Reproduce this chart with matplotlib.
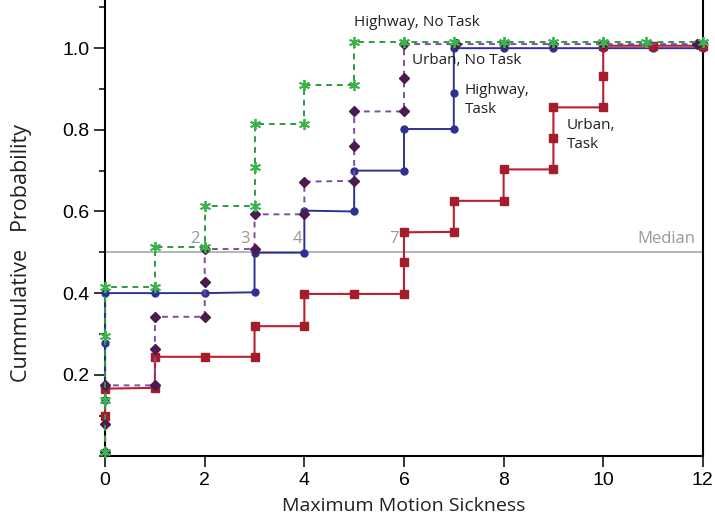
import matplotlib.pyplot as plt
from matplotlib.ticker import MultipleLocator

# step corners (x = max motion sickness, y = cumulative prob.)
hw_task_x = [0, 0, 0, 1, 2, 3, 3, 4, 4, 5, 5, 6, 6, 7, 7, 7, 8, 9, 10, 11, 12]
hw_task_y = [0.137, 0.278, 0.40, 0.40, 0.40, 0.402, 0.499, 0.499, 0.602, 0.60, 0.70,
             0.70, 0.802, 0.802, 0.89, 1.0, 1.0, 1.0, 1.0, 1.0, 1.0]

urb_task_x = [0, 0, 1, 1, 2, 3, 3, 4, 4, 5, 6, 6, 6, 7, 7, 8, 8, 9, 9, 9,
              10, 10, 10, 11, 12]
urb_task_y = [0.10, 0.166, 0.168, 0.244, 0.244, 0.244, 0.319, 0.319, 0.398, 0.398,
              0.398, 0.475, 0.549, 0.55, 0.626, 0.626, 0.703, 0.703, 0.781, 0.855,
              0.855, 0.932, 1.006, 1.006, 1.006]

urb_notask_x = [0, 0, 0, 1, 1, 1, 2, 2, 2, 3, 3, 4, 4, 5, 5, 5, 6, 6, 6,
                7.05, 8, 9, 10, 11.88]
urb_notask_y = [0.01, 0.08, 0.174, 0.174, 0.263, 0.342, 0.342, 0.427, 0.508, 0.508,
                0.593, 0.593, 0.673, 0.675, 0.76, 0.845, 0.845, 0.926, 1.01,
                1.01, 1.01, 1.01, 1.01, 1.01]

hw_notask_x = [0, 0, 0, 0, 1, 1, 2, 2, 3, 3, 3, 4, 4, 5, 5, 6, 7, 8, 9, 10, 10.85, 12]
hw_notask_y = [0.01, 0.137, 0.294, 0.414, 0.414, 0.513, 0.513, 0.613, 0.613, 0.709,
               0.814, 0.814, 0.909, 0.909, 1.014, 1.014, 1.014, 1.014, 1.014, 1.014,
               1.014, 1.014]

median_x = [1.9, 2.9, 3.95, 5.9]
median_lbl = ['2', '3', '4', '7']

fig = plt.figure(figsize=(7.15, 5.24), dpi=100)
ax = fig.add_axes([0.147, 0.129, 0.836, 0.871])

ax.axhline(0.5, color='#a8a8a8', lw=1.2, zorder=1)
ax.text(11.85, 0.512, 'Median', color='#999999', fontsize=12, family='Open Sans',
        ha='right', va='bottom')
for x, s in zip(median_x, median_lbl):
    ax.text(x, 0.512, s, color='#999999', fontsize=12, family='Open Sans',
            ha='right', va='bottom')

ax.plot(hw_task_x, hw_task_y, color='#2e3192', lw=1.4, marker='o', ms=5,
        mfc='#2e3192', mec='#2e3192', zorder=3, clip_on=False)
ax.plot(urb_task_x, urb_task_y, color='#be1e2d', lw=1.5, marker='s', ms=5.5,
        mfc='#a51d2a', mec='#a51d2a', zorder=3, clip_on=False)
ax.plot(urb_notask_x, urb_notask_y, color='#7b4ea3', lw=1.4, ls=(0, (3, 2.5)),
        marker='D', ms=5, mfc='#4b1a4f', mec='#4b1a4f', zorder=4, clip_on=False)
ax.plot(hw_notask_x, hw_notask_y, color='#2e9a44', lw=1.4, ls=(0, (3, 2.5)),
        marker=(6, 2, 0), ms=8, mew=1.3, mec='#39b54a', zorder=4, clip_on=False)

lbl = dict(fontsize=11, family='Open Sans', color='#231f20', va='center', ha='left')
ax.text(5.0, 1.064, 'Highway, No Task', **lbl)
ax.text(6.17, 0.971, 'Urban, No Task', **lbl)
ax.text(7.22, 0.873, 'Highway,\nTask', linespacing=1.35, **lbl)
ax.text(9.27, 0.787, 'Urban,\nTask', linespacing=1.35, **lbl)

ax.set_xlim(0, 12)
ax.set_ylim(0, 1.118)
ax.set_xticks(range(0, 13, 2))
ax.set_yticks([0.2, 0.4, 0.6, 0.8, 1.0])
ax.yaxis.set_minor_locator(MultipleLocator(0.1))
ax.tick_params(axis='both', direction='out', length=8, width=1.1, labelsize=14,
               pad=3)
ax.tick_params(axis='y', which='minor', direction='out', length=4, width=1.1)
for t in ax.get_xticklabels() + ax.get_yticklabels():
    t.set_family('Liberation Sans')

ax.spines['top'].set_visible(False)
for s in ['left', 'right', 'bottom']:
    ax.spines[s].set_linewidth(1.5)

ax.set_xlabel('Maximum Motion Sickness', fontsize=14, family='Open Sans',
              color='#231f20', labelpad=6)
ax.set_ylabel('Cummulative   Probability', fontsize=15.5, family='Open Sans',
              color='#231f20')
ax.yaxis.set_label_coords(-0.122, 0.445)

fig.savefig('out.png', dpi=100)
